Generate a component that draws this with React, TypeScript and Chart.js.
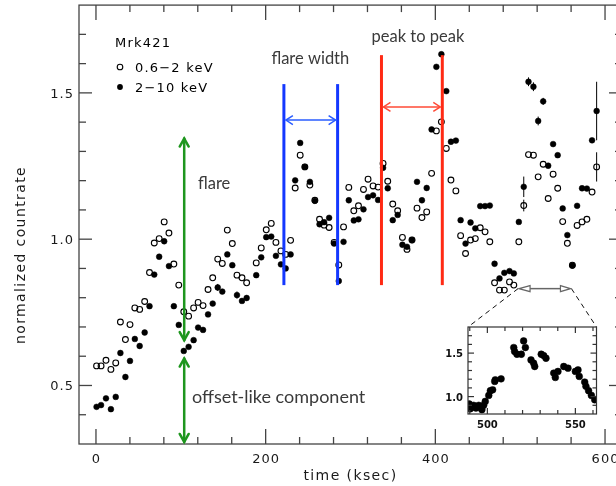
import React, { useEffect, useRef } from "react";
import { Chart, registerables } from "chart.js";

Chart.register(...registerables);

// ---------------- data ----------------
const times = [
  0.7, 6.0, 11.8, 17.6, 23.3, 28.8, 34.7, 40.1, 45.8, 51.5,
  57.4, 63.1, 68.7, 74.5, 80.4, 86.0, 91.8, 97.6, 103.5, 109.2,
  115.1, 120.4, 126.2, 132.1, 137.6, 143.5, 148.9, 154.8, 160.7, 166.2,
  172.1, 177.6, 188.9, 194.8, 200.7, 206.6, 212.1, 218.0, 223.6, 229.4,
  234.8, 240.7, 246.2, 252.1, 258.0, 263.5, 268.9, 274.8, 280.7, 286.2,
  291.8, 298.0, 303.9, 309.4, 315.3, 320.7, 326.6, 332.5, 338.4, 343.9,
  349.8, 355.6, 361.2, 366.6, 372.5, 378.4, 384.2, 389.8, 395.6, 401.2,
  407.1, 412.9, 418.4, 424.2, 429.8, 435.6, 441.5, 447.1, 452.9, 458.6,
  464.2, 469.8, 475.6, 481.3, 487.4, 492.5, 498.4, 504.2, 509.8, 515.6,
  521.2, 527.1, 533.0, 538.8, 544.2, 550.1, 555.6, 561.5, 567.1, 572.9,
  578.6, 584.7, 590.1,
];

// 0.6-2 keV (open circles)
const softRate = [
  0.567, 0.567, 0.586, 0.555, 0.577, 0.717, 0.657, 0.708, 0.765, 0.760,
  0.787, 0.886, 0.987, 1.002, 1.059, 1.021, 0.915, 0.843, 0.752, 0.737,
  0.765, 0.784, 0.773, 0.828, 0.868, 0.932, 0.917, 1.031, 0.985, 0.877,
  0.868, 0.851, 0.919, 0.970, 1.032, 1.054, 0.989, 0.960, 0.948, 0.996,
  1.175, 1.287, 1.247, 1.185, 1.133, 1.068, 1.048, 1.040, 0.989, 0.912,
  1.042, 1.177, 1.097, 1.114, 1.170, 1.205, 1.182, 1.178, 1.259, 1.198,
  1.120, 1.097, 1.006, 0.965, 0.997, 1.106, 1.074, 1.093, 1.225, 1.370,
  1.401, 1.310, 1.202, 1.165, 1.012, 0.951, 0.997, 1.002, 1.039, 1.025,
  0.991, 0.851, 0.826, 0.826, 0.854, 0.843, 0.991, 1.115, 1.289, 1.287,
  1.213, 1.256, 1.139, 1.222, 1.174, 1.060, 0.986, 0.911, 1.047, 1.059,
  1.068, 1.161, 1.247,
];

// 2-10 keV (filled circles)
const hardRate = [
  0.427, 0.433, 0.456, 0.419, 0.461, 0.611, 0.529, 0.584, 0.659, 0.635,
  0.681, 0.771, 0.879, 0.940, 0.993, 0.908, 0.771, 0.707, 0.618, 0.632,
  0.655, 0.698, 0.690, 0.743, 0.780, 0.835, 0.821, 0.948, 0.911, 0.809,
  0.789, 0.799, 0.877, 0.938, 1.007, 1.009, 0.943, 0.914, 0.900, 0.948,
  1.201, 1.329, 1.247, 1.196, 1.131, 1.051, 1.058, 1.073, 0.985, 0.857,
  0.991, 1.133, 1.064, 1.068, 1.102, 1.144, 1.150, 1.134, 1.244, 1.174,
  1.065, 1.083, 0.981, 0.974, 0.997, 1.196, 1.133, 1.175, 1.375, 1.589,
  1.632, 1.506, 1.333, 1.337, 1.065, 0.985, 1.057, 1.037, 1.113, 1.113,
  1.115, 0.916, 0.866, 0.885, 0.891, 0.883, 1.059, 1.179, 1.538, 1.521,
  1.404, 1.471, 1.251, 1.325, 1.287, 1.105, 1.014, 0.910, 1.114, 1.174,
  1.173, 1.338, 1.438,
];

// error bars (only where visible)
const errorTimes = [143.5, 166.2, 504.2, 509.8, 515.6, 521.2, 527.1, 590.1];
const hardErrors = [0.012, 0.012, 0.035, 0.015, 0.015, 0.015, 0.012, 0.1];
const softErrors = [0, 0, 0.02, 0, 0, 0, 0, 0.05];

// inset light curve
const insetTimes = [
  489.7, 490.3, 490.9, 492.2, 493.5, 494.2, 495.1, 496.4, 496.9, 497.9,
  498.8, 500.8, 501.7, 503.0, 504.2, 504.5, 507.8, 515.0, 515.5, 516.8,
  519.3, 520.6, 521.6, 524.8, 526.3, 526.9, 530.6, 532.0, 533.3, 537.7,
  538.6, 540.1, 543.4, 545.8, 550.0, 551.5, 552.2, 555.3, 556.0, 557.5,
  559.1, 561.0,
];
const insetRate = [
  0.915, 0.86, 0.877, 0.90, 0.869, 0.88, 0.90, 0.877, 0.85, 0.90,
  0.945, 1.014, 1.067, 1.078, 1.175, 1.193, 1.204, 1.564, 1.518, 1.487,
  1.487, 1.640, 1.564, 1.422, 1.384, 1.346, 1.487, 1.472, 1.441, 1.270,
  1.220, 1.289, 1.346, 1.327, 1.289, 1.307, 1.232, 1.167, 1.118, 1.067,
  1.014, 0.964,
];

// axis ticks
const xMajorTicks = [0, 200, 400, 600];
const xTickLabels = ["0", "200", "400", "600"];
const xMinorTicks = [40, 80, 120, 160, 240, 280, 320, 360, 440, 480, 520, 560];
const yMajorTicks = [0.5, 1.0, 1.5];
const yTickLabels = ["0.5", "1.0", "1.5"];
const yMinorTicks = [0.4, 0.6, 0.7, 0.8, 0.9, 1.1, 1.2, 1.3, 1.4, 1.6, 1.7];

const insetXMajor = [500, 550];
const insetXLabels = ["500", "550"];
const insetXMinor = [490, 510, 520, 530, 540, 560];
const insetYMajor = [1.0, 1.5];
const insetYLabels = ["1.0", "1.5"];
const insetYMinor = [0.9, 1.1, 1.2, 1.3, 1.4, 1.6, 1.7];

// annotation anchors (data units)
const flareTime = 104;
const flareSpan = [0.655, 1.344];
const offsetSpan = [0.307, 0.592];
const widthTimes = [221.5, 284.8];
const widthSpan = [0.843, 1.53];
const widthArrowLevel = 1.407;
const peakTimes = [336.5, 408.2];
const peakSpan = [0.843, 1.629];
const peakArrowLevel = 1.452;
const zoomRange = [497.5, 560.4];
const zoomLevel = 0.831;
const noteTexts = ["flare", "flare width", "peak to peak", "offset-like component"];
const noteTimes = [120.2, 206.8, 324.8, 113.1];
const noteLevels = [1.173, 1.6, 1.674, 0.44];

// ---------------- layout / style ----------------
const CW = 630;
const CH = 486;
const INSET = { left: 440, top: 316, width: 165, height: 122 };
const INSET_FRAME = { left: 468, top: 327, right: 596.5, bottom: 414 };
const NOTE_FONT_SIZES = [16.5, 16.5, 16.5, 18];

function seg(ctx: CanvasRenderingContext2D, x1: number, y1: number, x2: number, y2: number) {
  ctx.beginPath();
  ctx.moveTo(x1, y1);
  ctx.lineTo(x2, y2);
  ctx.stroke();
}

function head(ctx: CanvasRenderingContext2D, tx: number, ty: number, dx: number, dy: number, len: number, half: number) {
  const bx = tx - dx * len;
  const by = ty - dy * len;
  const px = -dy;
  const py = dx;
  ctx.beginPath();
  ctx.moveTo(bx + px * half, by + py * half);
  ctx.lineTo(tx, ty);
  ctx.lineTo(bx - px * half, by - py * half);
  ctx.stroke();
}

function errorSegments(vals: number[], errs: number[]) {
  const out: { x: number; y: number | null }[] = [];
  errorTimes.forEach((t, k) => {
    const i = times.indexOf(t);
    if (i < 0 || !errs[k]) return;
    out.push({ x: t, y: vals[i] - errs[k] });
    out.push({ x: t, y: vals[i] + errs[k] });
    out.push({ x: t, y: null });
  });
  return out;
}

const mainDecor = {
  id: "mainDecor",
  afterDraw(chart: any) {
    const ctx: CanvasRenderingContext2D = chart.ctx;
    const a = chart.chartArea;
    const xs = chart.scales.x;
    const ys = chart.scales.y;
    ctx.save();
    // frame
    ctx.strokeStyle = "#444";
    ctx.lineWidth = 1.3;
    ctx.strokeRect(a.left, a.top, a.right - a.left, a.bottom - a.top);
    // x ticks (inward, top and bottom)
    const xt = (v: number, len: number) => {
      const p = xs.getPixelForValue(v);
      seg(ctx, p, a.bottom, p, a.bottom - len);
      seg(ctx, p, a.top, p, a.top + len);
    };
    xMajorTicks.forEach((v) => xt(v, 15));
    xMinorTicks.forEach((v) => xt(v, 7));
    const yt = (v: number, len: number) => {
      const p = ys.getPixelForValue(v);
      seg(ctx, a.left, p, a.left + len, p);
      seg(ctx, a.right, p, a.right - len, p);
    };
    yMajorTicks.forEach((v) => yt(v, 13));
    yMinorTicks.forEach((v) => yt(v, 7));

    // tick labels
    ctx.fillStyle = "#1a1a1a";
    ctx.font = '13px "DejaVu Sans"';
    (ctx as any).letterSpacing = "1px";
    ctx.textBaseline = "alphabetic";
    ctx.textAlign = "center";
    xMajorTicks.forEach((v, i) => {
      ctx.fillText(xTickLabels[i], xs.getPixelForValue(v) + 0.5, 463);
    });
    ctx.textAlign = "right";
    yMajorTicks.forEach((v, i) => {
      ctx.fillText(yTickLabels[i], 74, ys.getPixelForValue(v) + 5);
    });
    // axis titles
    ctx.font = '14px "DejaVu Sans"';
    (ctx as any).letterSpacing = "1.4px";
    ctx.textAlign = "center";
    ctx.fillText("time (ksec)", (a.left + a.right) / 2, 480);
    ctx.save();
    ctx.translate(25, 255);
    ctx.rotate(-Math.PI / 2);
    ctx.fillText("normalized countrate", 0, 0);
    ctx.restore();

    // legend
    ctx.font = '13px "DejaVu Sans"';
    (ctx as any).letterSpacing = "1.2px";
    ctx.fillStyle = "#000";
    ctx.strokeStyle = "#000";
    ctx.textAlign = "left";
    ctx.fillText("Mrk421", 115, 47);
    ctx.lineWidth = 1.1;
    ctx.beginPath();
    ctx.arc(120, 67, 2.8, 0, Math.PI * 2);
    ctx.stroke();
    ctx.fillText("0.6\u22122 keV", 135, 72);
    ctx.beginPath();
    ctx.arc(120, 87, 2.9, 0, Math.PI * 2);
    ctx.fill();
    ctx.fillText("2\u221210 keV", 135, 92);

    // green arrows
    const gx = xs.getPixelForValue(flareTime);
    ctx.strokeStyle = "#1e961e";
    ctx.lineWidth = 2.5;
    ctx.lineCap = "round";
    const gTop = ys.getPixelForValue(flareSpan[1]);
    const gBot = ys.getPixelForValue(flareSpan[0]);
    seg(ctx, gx, gTop, gx, gBot);
    head(ctx, gx, gTop, 0, -1, 8, 4.5);
    head(ctx, gx, gBot, 0, 1, 8, 4.5);
    const oTop = ys.getPixelForValue(offsetSpan[1]);
    const oBot = ys.getPixelForValue(offsetSpan[0]);
    seg(ctx, gx, oTop, gx, oBot);
    head(ctx, gx, oTop, 0, -1, 8, 4.5);
    head(ctx, gx, oBot, 0, 1, 8, 4.5);

    // blue (flare width)
    ctx.lineCap = "butt";
    ctx.strokeStyle = "#1438ff";
    ctx.lineWidth = 3;
    const b1 = xs.getPixelForValue(widthTimes[0]);
    const b2 = xs.getPixelForValue(widthTimes[1]);
    widthTimes.forEach((t) => {
      const p = xs.getPixelForValue(t);
      seg(ctx, p, ys.getPixelForValue(widthSpan[0]), p, ys.getPixelForValue(widthSpan[1]));
    });
    ctx.strokeStyle = "#2a5cff";
    ctx.lineWidth = 1.5;
    const by = ys.getPixelForValue(widthArrowLevel);
    seg(ctx, b1 + 2, by, b2 - 2, by);
    head(ctx, b1 + 2, by, -1, 0, 7, 4.5);
    head(ctx, b2 - 2, by, 1, 0, 7, 4.5);

    // red (peak to peak)
    ctx.strokeStyle = "#ff2a14";
    ctx.lineWidth = 3;
    const r1 = xs.getPixelForValue(peakTimes[0]);
    const r2 = xs.getPixelForValue(peakTimes[1]);
    peakTimes.forEach((t) => {
      const p = xs.getPixelForValue(t);
      seg(ctx, p, ys.getPixelForValue(peakSpan[0]), p, ys.getPixelForValue(peakSpan[1]));
    });
    ctx.strokeStyle = "#ff4a36";
    ctx.lineWidth = 1.5;
    const ry = ys.getPixelForValue(peakArrowLevel);
    seg(ctx, r1 + 2, ry, r2 - 2, ry);
    head(ctx, r1 + 2, ry, -1, 0, 7, 4.5);
    head(ctx, r2 - 2, ry, 1, 0, 7, 4.5);

    // annotation texts
    ctx.fillStyle = "#3a3a3a";
    (ctx as any).letterSpacing = "0px";
    ctx.textAlign = "left";
    noteTexts.forEach((s, i) => {
      ctx.font = `${NOTE_FONT_SIZES[i]}px Lato`;
      ctx.fillText(s, xs.getPixelForValue(noteTimes[i]), ys.getPixelForValue(noteLevels[i]));
    });

    // zoom bracket
    const z1 = xs.getPixelForValue(zoomRange[0]);
    const z2 = xs.getPixelForValue(zoomRange[1]);
    const zy = ys.getPixelForValue(zoomLevel);
    ctx.strokeStyle = "#111";
    ctx.lineWidth = 1;
    ctx.setLineDash([5, 4]);
    seg(ctx, z1, zy, INSET_FRAME.left, INSET_FRAME.top);
    seg(ctx, z2, zy, INSET_FRAME.right, INSET_FRAME.top);
    ctx.setLineDash([]);
    ctx.strokeStyle = "#666";
    ctx.lineWidth = 1.5;
    seg(ctx, z1 + 12, zy, z2 - 11, zy);
    ctx.fillStyle = "#fff";
    ctx.lineWidth = 1.2;
    ctx.beginPath();
    ctx.moveTo(z1 + 1, zy);
    ctx.lineTo(z1 + 12, zy - 3);
    ctx.lineTo(z1 + 12, zy + 3);
    ctx.closePath();
    ctx.fill();
    ctx.stroke();
    ctx.beginPath();
    ctx.moveTo(z2 - 1, zy);
    ctx.lineTo(z2 - 11, zy - 3);
    ctx.lineTo(z2 - 11, zy + 3);
    ctx.closePath();
    ctx.fill();
    ctx.stroke();

    ctx.restore();
  },
};

const insetDecor = {
  id: "insetDecor",
  afterDraw(chart: any) {
    const ctx: CanvasRenderingContext2D = chart.ctx;
    const a = chart.chartArea;
    const xs = chart.scales.x;
    const ys = chart.scales.y;
    ctx.save();
    ctx.strokeStyle = "#333";
    ctx.lineWidth = 1.2;
    ctx.strokeRect(a.left, a.top, a.right - a.left, a.bottom - a.top);
    const xt = (v: number, len: number) => {
      const p = xs.getPixelForValue(v);
      seg(ctx, p, a.bottom, p, a.bottom - len);
      seg(ctx, p, a.top, p, a.top + len);
    };
    insetXMajor.forEach((v) => xt(v, 6));
    insetXMinor.forEach((v) => xt(v, 4));
    const yt = (v: number, len: number) => {
      const p = ys.getPixelForValue(v);
      seg(ctx, a.left, p, a.left + len, p);
      seg(ctx, a.right, p, a.right - len, p);
    };
    insetYMajor.forEach((v) => yt(v, 6));
    insetYMinor.forEach((v) => yt(v, 4));
    ctx.fillStyle = "#111";
    ctx.font = 'bold 10px "DejaVu Sans"';
    ctx.textAlign = "center";
    insetXMajor.forEach((v, i) => ctx.fillText(insetXLabels[i], xs.getPixelForValue(v), a.bottom + 14));
    ctx.textAlign = "right";
    insetYMajor.forEach((v, i) => ctx.fillText(insetYLabels[i], a.left - 5, ys.getPixelForValue(v) + 4));
    ctx.restore();
  },
};

export default function App() {
  const mainRef = useRef<HTMLCanvasElement>(null);
  const insetRef = useRef<HTMLCanvasElement>(null);

  useEffect(() => {
    if (!mainRef.current || !insetRef.current) return;
    const main = new Chart(mainRef.current, {
      type: "scatter",
      data: {
        datasets: [
          {
            label: "2\u221210 keV",
            data: times.map((t, i) => ({ x: t, y: hardRate[i] })),
            pointRadius: 2.9,
            pointBackgroundColor: "#000",
            pointBorderColor: "#000",
            pointBorderWidth: 0.5,
            order: 0,
          },
          {
            label: "0.6\u22122 keV",
            data: times.map((t, i) => ({ x: t, y: softRate[i] })),
            pointRadius: 2.9,
            pointBackgroundColor: "rgba(0,0,0,0)",
            pointBorderColor: "#000",
            pointBorderWidth: 1.1,
            order: 1,
          },
          {
            type: "line",
            label: "hard errors",
            data: errorSegments(hardRate, hardErrors),
            borderColor: "#000",
            borderWidth: 1,
            pointRadius: 0,
            spanGaps: false,
            order: 2,
          } as any,
          {
            type: "line",
            label: "soft errors",
            data: errorSegments(softRate, softErrors),
            borderColor: "#000",
            borderWidth: 1,
            pointRadius: 0,
            spanGaps: false,
            order: 3,
          } as any,
        ],
      },
      options: {
        animation: false,
        responsive: false,
        devicePixelRatio: 1,
        events: [],
        layout: { padding: { left: 79, top: 4, right: 8, bottom: 42 } },
        plugins: { legend: { display: false }, tooltip: { enabled: false } },
        scales: {
          x: { type: "linear", min: -20, max: 620, display: false },
          y: { type: "linear", min: 0.3, max: 1.8, display: false },
        },
      },
      plugins: [mainDecor],
    });

    const inset = new Chart(insetRef.current, {
      type: "scatter",
      data: {
        datasets: [
          {
            label: "inset",
            data: insetTimes.map((t, i) => ({ x: t, y: insetRate[i] })),
            pointRadius: 3.4,
            pointBackgroundColor: "#000",
            pointBorderColor: "#000",
            pointBorderWidth: 0.5,
          },
        ],
      },
      options: {
        animation: false,
        responsive: false,
        devicePixelRatio: 1,
        events: [],
        layout: {
          padding: {
            left: INSET_FRAME.left - INSET.left,
            top: INSET_FRAME.top - INSET.top,
            right: INSET.left + INSET.width - INSET_FRAME.right,
            bottom: INSET.top + INSET.height - INSET_FRAME.bottom,
          },
        },
        plugins: { legend: { display: false }, tooltip: { enabled: false } },
        scales: {
          x: { type: "linear", min: 489, max: 562, display: false },
          y: { type: "linear", min: 0.8, max: 1.8, display: false },
        },
      },
      plugins: [insetDecor],
    });

    return () => {
      main.destroy();
      inset.destroy();
    };
  }, []);

  return (
    <div
      style={{
        position: "fixed",
        left: 0,
        top: 0,
        width: 616,
        height: 486,
        overflow: "hidden",
        background: "#fff",
      }}
    >
      <canvas
        ref={mainRef}
        width={CW}
        height={CH}
        style={{ position: "absolute", left: 0, top: 0, width: CW, height: CH }}
      />
      <canvas
        ref={insetRef}
        width={INSET.width}
        height={INSET.height}
        style={{
          position: "absolute",
          left: INSET.left,
          top: INSET.top,
          width: INSET.width,
          height: INSET.height,
        }}
      />
    </div>
  );
}
